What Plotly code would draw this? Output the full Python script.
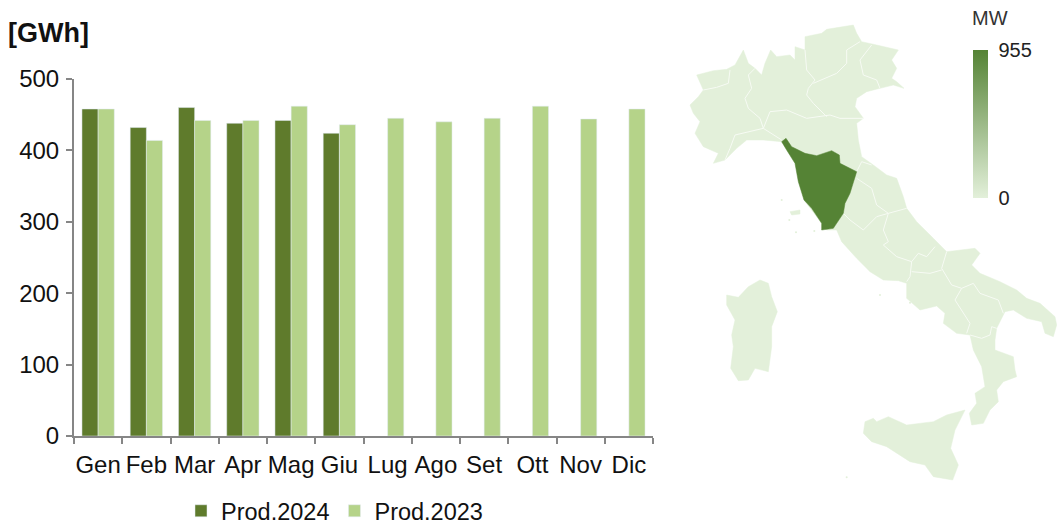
import plotly.graph_objects as go

W, H = 1057, 525
FONT = "Liberation Sans, Arial, sans-serif"
months = ["Gen", "Feb", "Mar", "Apr", "Mag", "Giu", "Lug", "Ago", "Set", "Ott", "Nov", "Dic"]
prod_2024 = [458, 432, 460, 438, 442, 424, None, None, None, None, None, None]
prod_2023 = [458, 414, 442, 442, 462, 436, 445, 440, 445, 462, 444, 458]
y_ticks = [0, 100, 200, 300, 400, 500]
DARK, LIGHT = "#5f7b2c", "#b5d389"
MAP_LOW, MAP_HIGH = "#e3f0da", "#558335"
capacity_range = [0, 955]

# Map outlines, in a local map coordinate system (x 0-1131, y 0-1575)
mainland = [(30,315),(55,290),(70,270),(50,225),(100,212),(140,208),(165,195),(190,150),(205,190),(225,205),(245,225),(255,190),(272,150),(290,170),(330,165),(345,180),(345,140),(375,150),(375,110),(425,100),(440,88),(520,75),(530,100),(545,125),(590,135),(655,150),(635,180),(650,205),(635,235),(650,245),(672,265),(640,255),(600,265),(560,275),(530,295),(525,320),(550,355),(530,370),(535,420),(545,470),(580,495),(620,525),(650,535),(670,590),(680,625),(710,665),(760,715),(800,755),(885,745),(900,760),(875,795),(900,820),(960,845),(1010,870),(1040,895),(1080,910),(1125,950),(1130,975),(1120,1010),(1095,1000),(1085,965),(1040,955),(1000,930),(975,935),(950,985),(945,1020),(945,1050),(1000,1070),(1005,1110),(1010,1130),(970,1145),(950,1170),(955,1205),(930,1230),(910,1270),(875,1275),(868,1240),(890,1210),(885,1180),(915,1160),(905,1100),(880,1050),(870,1005),(830,1000),(790,970),(795,940),(770,918),(720,930),(680,895),(680,850),(655,842),(610,840),(570,815),(530,775),(485,725),(470,690),(440,690),(372,600),(345,490),(305,425),(250,420),(200,420),(170,445),(135,480),(100,490),(115,460),(70,440),(45,400),(60,365),(40,340)]
tuscany = [(305,425),(318,415),(335,440),(375,460),(410,467),(455,452),(478,465),(480,490),(530,515),(520,550),(510,580),(495,610),(490,640),(470,670),(460,685),(425,690),(425,670),(395,625),(372,600),(355,545),(345,490),(320,450)]
sardinia = [(240,840),(265,850),(275,890),(292,935),(275,980),(275,1040),(265,1115),(225,1105),(205,1140),(175,1142),(152,1105),(160,1040),(155,1005),(165,960),(140,915),(140,885),(175,892),(205,860)]
sicily = [(855,1230),(825,1290),(812,1345),(835,1395),(818,1440),(760,1430),(735,1395),(690,1385),(620,1340),(575,1325),(550,1300),(555,1265),(580,1255),(590,1265),(625,1250),(680,1275),(760,1265),(800,1245)]
elba = [(330,635),(360,630),(360,642),(335,645)]
borders = [
    [(70,270),(110,262),(145,250),(150,210)],
    [(225,205),(205,225),(215,265),(195,295),(205,325),(240,355),(250,385)],
    [(250,385),(205,395),(165,405),(150,445),(135,480)],
    [(250,385),(270,335),(320,330),(380,355),(450,345),(480,355),(550,355)],
    [(250,385),(305,420)],
    [(380,285),(400,310),(440,350)],
    [(375,150),(380,210),(405,240),(385,265),(380,285)],
    [(400,250),(470,220),(500,190),(500,150),(540,125)],
    [(575,135),(540,180),(550,225),(590,240),(600,265)],
    [(530,515),(545,485),(575,495)],
    [(530,535),(575,565),(590,615),(625,640)],
    [(625,640),(680,625)],
    [(490,640),(510,660),(550,690),(590,650),(625,640)],
    [(625,640),(610,690),(625,725),(610,735),(650,770),(695,785)],
    [(765,740),(740,770),(715,760),(695,785)],
    [(695,785),(690,830),(680,845)],
    [(800,755),(785,805)],
    [(695,815),(750,820),(785,810)],
    [(785,805),(815,855),(845,865)],
    [(845,865),(825,900),(870,970),(860,1000)],
    [(845,865),(880,850),(900,880),(955,900),(970,940)],
    [(870,1005),(905,1015),(930,1005),(935,980),(950,985)],
]
islets = [(305,600),(328,660),(348,697),(403,693),(500,1432),(600,885),(690,908)]

fig = go.Figure()
fig.add_bar(x=months, y=prod_2024, name="Prod.2024", marker_color=DARK)
fig.add_bar(x=months, y=prod_2023, name="Prod.2023", marker_color=LIGHT)

def poly(points, color):
    xs, ys = zip(*points)
    fig.add_scatter(x=list(xs) + [xs[0]], y=list(ys) + [ys[0]], xaxis="x2", yaxis="y2", mode="lines",
                    fill="toself", fillcolor=color, line=dict(color=color, width=0.5),
                    showlegend=False, hoverinfo="skip")

for shape in (mainland, sardinia, sicily, elba):
    poly(shape, MAP_LOW)
for line in borders:
    xs, ys = zip(*line)
    fig.add_scatter(x=xs, y=ys, xaxis="x2", yaxis="y2", mode="lines",
                    line=dict(color="#f7fbf4", width=1), showlegend=False, hoverinfo="skip")
poly(tuscany, MAP_HIGH)
xs, ys = zip(*islets)
fig.add_scatter(x=xs, y=ys, xaxis="x2", yaxis="y2", mode="markers",
                marker=dict(color=MAP_LOW, size=2), showlegend=False, hoverinfo="skip")

# Colour scale
fig.add_scatter(x=[430, 430], y=[550, 550], xaxis="x2", yaxis="y2", mode="markers", showlegend=False, hoverinfo="skip",
                marker=dict(size=1, opacity=0, color=capacity_range, cmin=0, cmax=955,
                            colorscale=[[0, MAP_LOW], [1, MAP_HIGH]],
                            colorbar=dict(thickness=15, thicknessmode="pixels", len=148, lenmode="pixels",
                                          x=973 / W, xanchor="left", xpad=0, y=1 - 50 / H, yanchor="top", ypad=0,
                                          outlinewidth=0, tickvals=capacity_range, ticks="outside", ticklen=7,
                                          tickcolor="white", tickwidth=1,
                                          tickfont=dict(family=FONT, size=20, color="#222222"))))

fig.update_layout(
    width=W, height=H, autosize=False, margin=dict(l=0, r=0, t=0, b=0, autoexpand=False),
    paper_bgcolor="white", plot_bgcolor="white", barmode="group", bargap=0.33, bargroupgap=0,
    font=dict(family=FONT, size=24, color="#111111"),
    xaxis=dict(domain=[74 / W, 653 / W], anchor="y", tickson="boundaries", ticks="outside", ticklen=6,
               tickcolor="#868686", tickwidth=2, linecolor="#868686", linewidth=2, showgrid=False,
               tickfont=dict(size=24), automargin=False, tickangle=0, ticklabelstandoff=6),
    yaxis=dict(domain=[(H - 436) / H, (H - 79) / H], anchor="x", range=[0, 500], tickvals=y_ticks,
               ticks="outside", ticklen=6, tickcolor="#868686", tickwidth=2, linecolor="#868686", linewidth=2,
               showgrid=False, zeroline=False, tickfont=dict(size=24), automargin=False, ticklabelstandoff=2),
    xaxis2=dict(domain=[680 / W, 1], range=[0, 1131], visible=False, anchor="y2", fixedrange=True),
    yaxis2=dict(domain=[0, 1], range=[1575, 0], visible=False, anchor="x2", fixedrange=True),
    legend=dict(orientation="h", x=181 / W, xanchor="left", y=1 - 511 / H, yanchor="middle",
                font=dict(size=23.5), bgcolor="rgba(0,0,0,0)", itemclick=False, traceorder="normal"),
    annotations=[
        dict(text="<b>[GWh]</b>", xref="paper", yref="paper", x=6 / W, y=1 - 33 / H, xanchor="left", yanchor="middle",
             showarrow=False, font=dict(size=27, color="#111111")),
        dict(text="MW", xref="paper", yref="paper", x=970 / W, y=1 - 18 / H, xanchor="left", yanchor="middle",
             showarrow=False, font=dict(size=20, color="#333333")),
    ],
)
fig.write_html("out.html", config=dict(displayModeBar=False), post_script="document.body.style.margin='0';")
